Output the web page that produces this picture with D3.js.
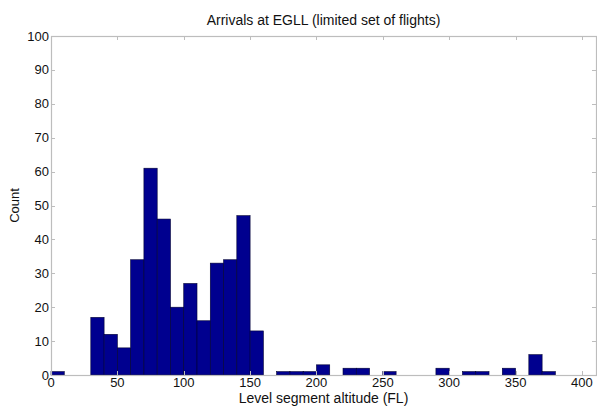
<!DOCTYPE html>
<html>
<head>
<meta charset="utf-8">
<script src="https://cdn.jsdelivr.net/npm/d3@7"></script>
<style>
  body { margin: 0; background: #fff; }
  svg { display: block; font-family: "Liberation Sans", Arial, sans-serif; }
</style>
</head>
<body>
<div id="chart"></div>
<script>
// Histogram bins (lower edge, FL) and counts, bin width 10
const binStarts = d3.range(0, 400, 10);
const counts = [
  1, 0, 0, 17, 12, 8, 34, 61, 46, 20,
  27, 16, 33, 34, 47, 13, 0, 1, 1, 1,
  3, 0, 2, 2, 0, 1, 0, 0, 0, 2,
  0, 1, 1, 0, 2, 0, 6, 1, 0, 0
];
const xTicks = [0, 50, 100, 150, 200, 250, 300, 350, 400];
const yTicks = [0, 10, 20, 30, 40, 50, 60, 70, 80, 90, 100];

const width = 597, height = 406;
const plot = { left: 51, right: 596, top: 36, bottom: 375 };
const axisColor = "#bdbdbd";
const barColor = "#00008f";
const binWidth = 10;

const svg = d3.select("#chart").append("svg")
  .attr("width", width)
  .attr("height", height);

const x = d3.scaleLinear()
  .domain([0, 410.6])
  .range([plot.left, plot.right]);

const y = d3.scaleLinear()
  .domain([0, 100])
  .range([plot.bottom, plot.top]);

const data = binStarts.map((b, i) => ({ start: b, count: counts[i] }));

// Bars
svg.selectAll(".bar")
  .data(data.filter(d => d.count > 0))
  .enter()
  .append("rect")
  .attr("class", "bar")
  .attr("x", d => x(d.start))
  .attr("y", d => y(d.count))
  .attr("width", d => x(d.start + binWidth) - x(d.start))
  .attr("height", d => y(0) - y(d.count))
  .attr("fill", barColor)
  .attr("stroke", "#000033")
  .attr("stroke-width", 0.6);

// Box
svg.append("rect")
  .attr("x", plot.left + 0.5)
  .attr("y", plot.top + 0.5)
  .attr("width", plot.right - plot.left)
  .attr("height", plot.bottom - plot.top)
  .attr("fill", "none")
  .attr("stroke", axisColor)
  .attr("stroke-width", 1.2);

const tickLen = 4;

// X ticks (bottom and top, inward)
const gx = svg.append("g");
xTicks.forEach(t => {
  const px = Math.round(x(t)) + 0.5;
  gx.append("line")
    .attr("x1", px).attr("x2", px)
    .attr("y1", plot.bottom).attr("y2", plot.bottom - tickLen)
    .attr("stroke", axisColor);
  gx.append("line")
    .attr("x1", px).attr("x2", px)
    .attr("y1", plot.top).attr("y2", plot.top + tickLen)
    .attr("stroke", axisColor);
  gx.append("text")
    .attr("x", x(t))
    .attr("y", plot.bottom + 12)
    .attr("text-anchor", "middle")
    .style("font-size", "13px")
    .attr("fill", "#111")
    .text(t);
});

// Y ticks (left and right, inward)
const gy = svg.append("g");
yTicks.forEach(t => {
  const py = Math.round(y(t)) + 0.5;
  gy.append("line")
    .attr("x1", plot.left).attr("x2", plot.left + tickLen)
    .attr("y1", py).attr("y2", py)
    .attr("stroke", axisColor);
  gy.append("line")
    .attr("x1", plot.right).attr("x2", plot.right - tickLen)
    .attr("y1", py).attr("y2", py)
    .attr("stroke", axisColor);
  gy.append("text")
    .attr("x", plot.left - 2)
    .attr("y", y(t))
    .attr("dy", "0.35em")
    .attr("text-anchor", "end")
    .style("font-size", "13px")
    .attr("fill", "#111")
    .text(t);
});

// Title and axis labels
svg.append("text")
  .attr("x", (plot.left + plot.right) / 2)
  .attr("y", 25)
  .attr("text-anchor", "middle")
  .style("font-size", "14px")
  .attr("fill", "#111")
  .text("Arrivals at EGLL (limited set of flights)");

svg.append("text")
  .attr("x", (plot.left + plot.right) / 2)
  .attr("y", 403)
  .attr("text-anchor", "middle")
  .style("font-size", "14px")
  .attr("fill", "#111")
  .text("Level segment altitude (FL)");

svg.append("text")
  .attr("transform", `translate(19, ${(plot.top + plot.bottom) / 2}) rotate(-90)`)
  .attr("text-anchor", "middle")
  .style("font-size", "13px")
  .attr("fill", "#111")
  .text("Count");
</script>
</body>
</html>
